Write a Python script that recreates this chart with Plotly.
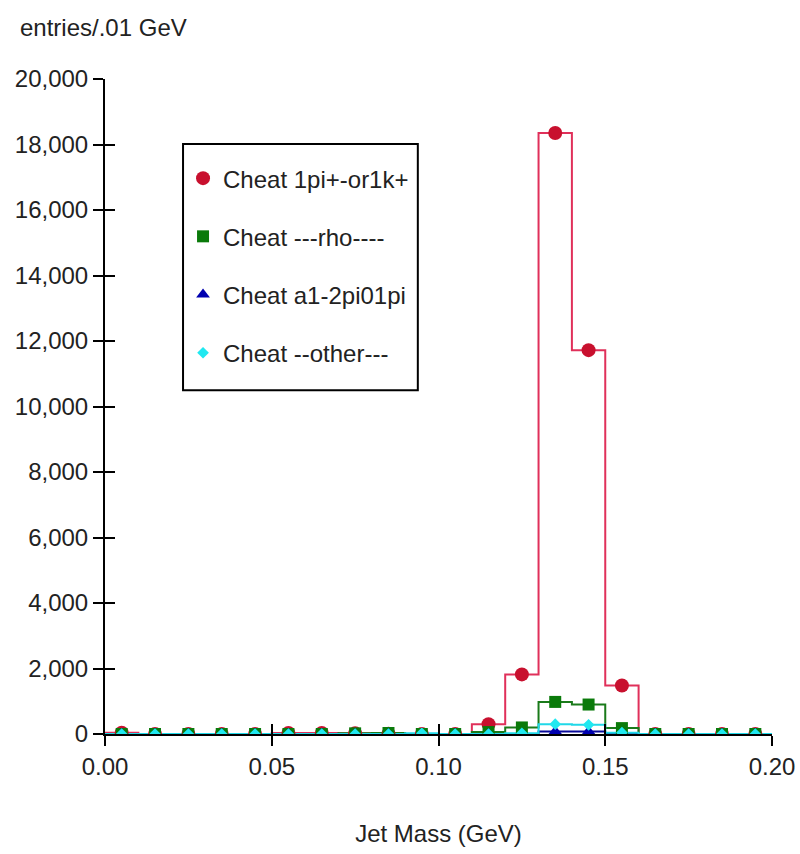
import numpy as np
import plotly.graph_objects as go

# ---- data ----
bin_edges = [round(0.01 * i, 2) for i in range(21)]
bin_centers = [round(0.005 + 0.01 * i, 3) for i in range(20)]

names = ["Cheat 1pi+-or1k+", "Cheat ---rho----", "Cheat a1-2pi01pi", "Cheat --other---"]
red_vals = [40, 0, 0, 0, 0, 30, 30, 20, 10, 0, 0, 300, 1820, 18350, 11720, 1480, 0, 0, 0, 0]
green_vals = [0, 0, 0, 0, 0, 0, 0, 20, 30, 0, 0, 60, 200, 980, 900, 180, 0, 0, 0, 0]
blue_vals = [0, 0, 0, 0, 0, 0, 0, 0, 0, 0, 0, 0, 0, 80, 80, 0, 0, 0, 0, 0]
cyan_vals = [0, 0, 0, 0, 0, 0, 0, 0, 0, 20, 0, 0, 20, 300, 280, 40, 0, 0, 0, 0]

y_ticks = list(range(0, 20001, 2000))
x_ticks = [0.0, 0.05, 0.10, 0.15, 0.20]
x_tick_text = ["0.00", "0.05", "0.10", "0.15", "0.20"]

series = [
    (names[0], red_vals, "#e0305a", "#c8102e", "circle", 14, True),
    (names[1], green_vals, "#1a7a1a", "#0a7a0a", "square", 12, False),
    (names[2], blue_vals, "#0a0a9a", "#0000b0", "triangle-up", 12, False),
    (names[3], cyan_vals, "#20d8e8", "#20e8f0", "diamond", 9, False),
]

FONT = "Liberation Sans"
FS = 24
fig = go.Figure()

# step outlines
for name, vals, lcol, mcol, sym, msz, err in series:
    fig.add_trace(go.Scatter(
        x=bin_edges, y=list(vals) + [vals[-1]], mode="lines",
        line=dict(color=lcol, width=2, shape="hv"),
        showlegend=False, hoverinfo="skip"))

# markers
for i, (name, vals, lcol, mcol, sym, msz, err) in enumerate(series):
    kw = {}
    if err:
        kw["error_y"] = dict(type="data", array=list(np.sqrt(vals)), color=mcol,
                             thickness=2, width=3)
    fig.add_trace(go.Scatter(
        x=bin_centers, y=vals, mode="markers", name=name,
        legendgroup=f"g{i}",
        marker=dict(symbol=sym, size=msz, color=mcol), **kw))

# invisible trace for overlay axes (crossing ticks)
fig.add_trace(go.Scatter(x=[0, 0.2], y=[0, 20000], xaxis="x2", yaxis="y2",
                         mode="markers", marker=dict(opacity=0),
                         showlegend=False, hoverinfo="skip"))

axfont = dict(family=FONT, size=FS, color="#222")
fig.update_layout(
    width=800, height=854,
    margin=dict(l=105, r=28, t=79, b=120),
    paper_bgcolor="white", plot_bgcolor="white",
    font=axfont,
    xaxis=dict(range=[0, 0.2], tickvals=x_ticks, ticktext=x_tick_text,
               automargin=False,
               showgrid=False, zeroline=False, showline=True,
               linecolor="black", linewidth=2, ticks="outside", ticklen=10,
               tickwidth=2, tickcolor="black",
               title=dict(text="Jet Mass (GeV)", standoff=46,
                          font=dict(family=FONT, size=FS, color="#222"))),
    yaxis=dict(range=[0, 20000], tickvals=y_ticks, tickformat=",d",
               automargin=False,
               showgrid=False, zeroline=False, showline=True,
               linecolor="black", linewidth=2, ticks="outside", ticklen=10,
               tickwidth=2, tickcolor="black"),
    xaxis2=dict(range=[0, 0.2], overlaying="x", anchor="y2", tickvals=x_ticks,
                automargin=False,
                showticklabels=False, ticks="inside", ticklen=10, tickwidth=2,
                tickcolor="black", showgrid=False, zeroline=False, showline=False),
    yaxis2=dict(range=[0, 20000], overlaying="y", anchor="x2", side="left",
                automargin=False,
                tickvals=y_ticks, showticklabels=False, ticks="inside",
                ticklen=10, tickwidth=2, tickcolor="black", showgrid=False,
                zeroline=False, showline=False),
    legend=dict(x=0.117, y=0.8824, xanchor="left", yanchor="top",
                bgcolor="rgba(0,0,0,0)", borderwidth=0,
                font=dict(family=FONT, size=FS, color="#222"),
                tracegroupgap=24),
    shapes=[dict(type="rect", xref="paper", yref="paper",
                 x0=0.117, x1=0.469, y0=0.525, y1=0.9008,
                 line=dict(color="black", width=2), fillcolor="white",
                 layer="below")],
    annotations=[dict(text="entries/.01 GeV", xref="paper", yref="paper",
                      x=-0.13, y=1.078, xanchor="left", yanchor="middle",
                      showarrow=False, font=dict(family=FONT, size=FS, color="#222"))],
)

fig.write_html("out.html")
